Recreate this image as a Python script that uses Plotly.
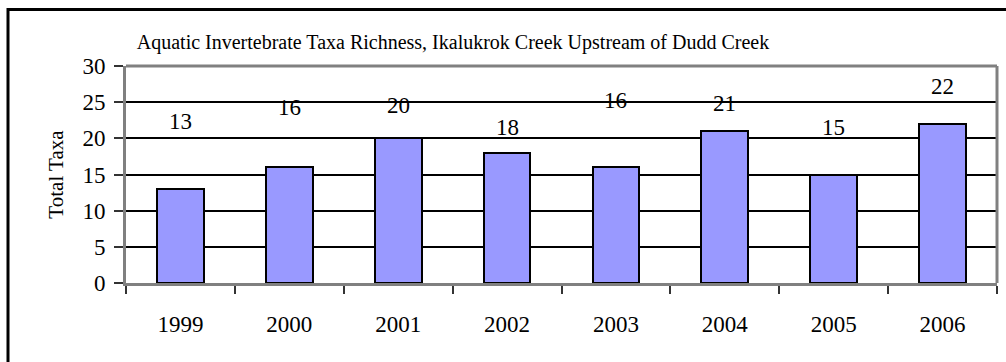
import plotly.graph_objects as go

years = ["1999", "2000", "2001", "2002", "2003", "2004", "2005", "2006"]
taxa = [13, 16, 20, 18, 16, 21, 15, 22]
label_y = [22.3, 24.2, 24.5, 21.5, 25.2, 24.8, 21.5, 27.2]
y_ticks = [0, 5, 10, 15, 20, 25, 30]

FONT = "Liberation Serif, Times New Roman, serif"

fig = go.Figure()
fig.add_trace(go.Bar(
    x=years, y=taxa,
    marker=dict(color="#9999FF", line=dict(color="black", width=2)),
    width=0.43,
))

for i, (v, ly) in enumerate(zip(taxa, label_y)):
    fig.add_annotation(x=i, y=ly, text=str(v), showarrow=False,
                       font=dict(family=FONT, size=23, color="black"))

W, H = 1006, 362
l, r, t, b = 126, 9, 66, 79
pw, ph = W - l - r, H - t - b

def px(xp):
    return (xp - l) / pw

def py(yp):
    return (H - b - yp) / ph

# outer chart border
fig.add_shape(type="rect", xref="paper", yref="paper",
              x0=px(8), x1=px(1010), y0=py(370), y1=py(9.5),
              line=dict(color="black", width=3), layer="below")
# plot-area frame (top and right, gray)
fig.add_shape(type="line", xref="paper", yref="paper", x0=0, x1=1, y0=1, y1=1,
              line=dict(color="#808080", width=3))
fig.add_shape(type="line", xref="paper", yref="paper", x0=1, x1=1, y0=0, y1=1,
              line=dict(color="#808080", width=3))

fig.update_layout(
    width=W, height=H,
    margin=dict(l=l, r=r, t=t, b=b),
    paper_bgcolor="white", plot_bgcolor="white",
    showlegend=False,
    bargap=0,
    font=dict(family=FONT, color="black"),
    title=dict(text="Aquatic Invertebrate Taxa Richness, Ikalukrok Creek Upstream of Dudd Creek",
               x=453 / W, xanchor="center", y=1 - 42 / H, yanchor="middle",
               font=dict(family=FONT, size=20, color="black")),
    xaxis=dict(
        type="category", range=[-0.5, len(years) - 0.5],
        tickson="boundaries", ticks="outside", ticklen=8,
        tickcolor="#333333", tickwidth=1.5,
        showline=True, linecolor="#808080", linewidth=3,
        tickfont=dict(family=FONT, size=23, color="black"),
        tickangle=0,
        showgrid=False, ticklabelstandoff=18,
    ),
    yaxis=dict(
        range=[0, 30], tickvals=y_ticks, ticks="outside", ticklen=9,
        tickcolor="#333333", tickwidth=1.5,
        showline=True, linecolor="#808080", linewidth=3,
        showgrid=True, gridcolor="black", gridwidth=1.5,
        zeroline=False,
        tickfont=dict(family=FONT, size=23, color="black"),
        ticklabelstandoff=4,
        title=dict(text="Total Taxa", font=dict(family=FONT, size=21, color="black"),
                   standoff=14),
    ),
)

fig.write_html("out.html")
